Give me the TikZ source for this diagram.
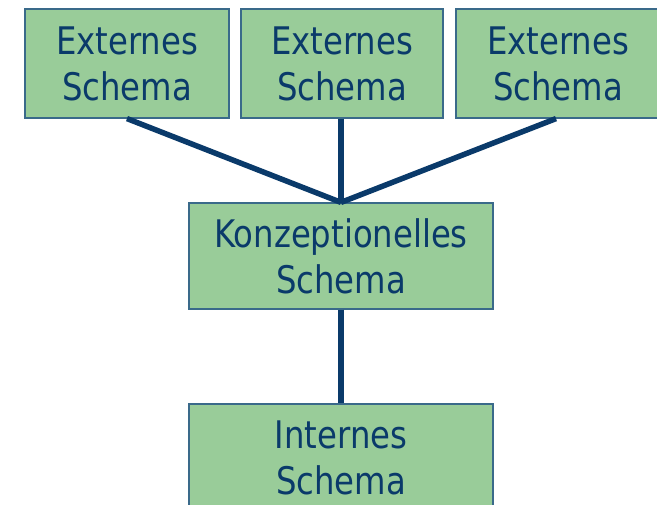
\documentclass[tikz,border=0pt]{standalone}
\usepackage{fontspec}
\setmainfont{DejaVu Sans}[FakeStretch=0.85]
\definecolor{boxfill}{HTML}{99CC99}
\definecolor{boxline}{HTML}{3A6A8A}
\definecolor{ink}{HTML}{0A3A6A}
\tikzset{
  schemabox/.style={draw=boxline, line width=1.2pt, fill=boxfill, text=ink,
    align=center, inner sep=0pt, font=\fontsize{38}{46}\selectfont},
  link/.style={draw=ink, line width=5.5pt}
}
\begin{document}
\begin{tikzpicture}[x=1pt,y=-1pt]
\useasboundingbox (0,0) rectangle (657,505);
\clip (0,0) rectangle (657,505);
\node[schemabox, minimum width=204pt, minimum height=109pt] (e1) at (127,63.5) {Externes\\Schema};
\node[schemabox, minimum width=202pt, minimum height=109pt] (e2) at (342,63.5) {Externes\\Schema};
\node[schemabox, minimum width=204pt, minimum height=109pt] (e3) at (558,63.5) {Externes\\Schema};
\node[schemabox, minimum width=304pt, minimum height=106pt] (k) at (341,256) {Konzeptionelles\\Schema};
\node[schemabox, minimum width=304pt, minimum height=108pt] (i) at (341,458) {Internes\\Schema};
\draw[link] (e1.south) -- (k.north);
\draw[link] (e2.south -| k.north) -- (k.north);
\draw[link] ([xshift=-2pt]e3.south) -- (k.north);
\draw[link] (k.south) -- (i.north);
\end{tikzpicture}
\end{document}
